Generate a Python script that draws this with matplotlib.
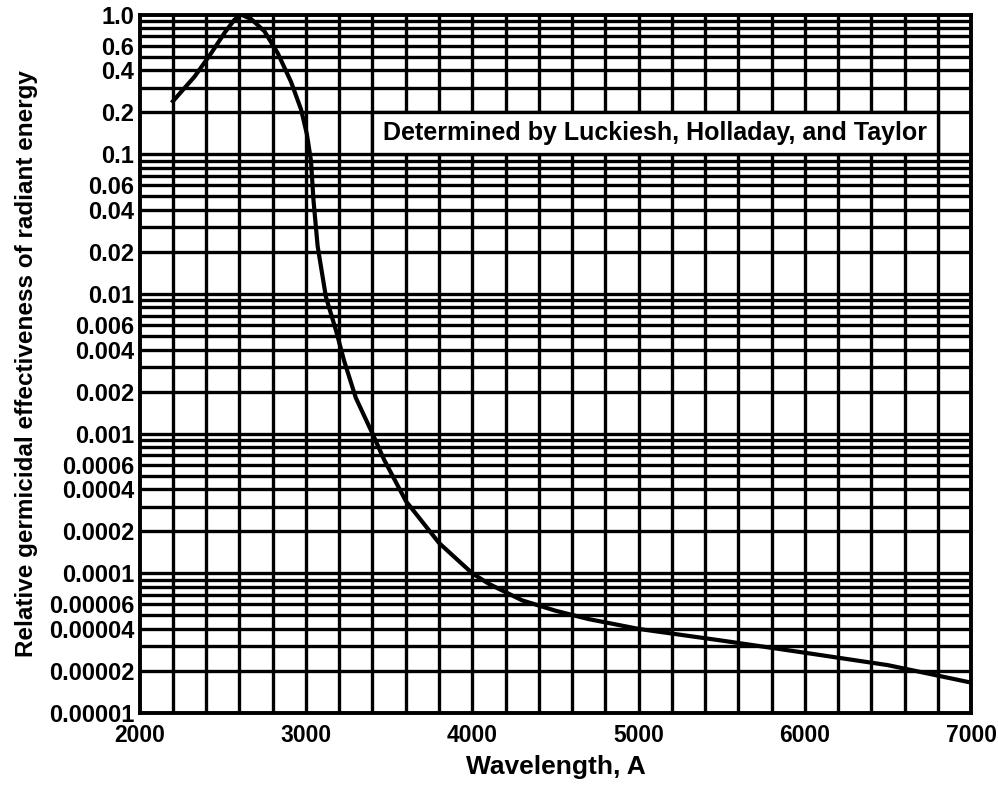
import matplotlib
matplotlib.use("Agg")
import matplotlib.pyplot as plt
from matplotlib.patches import Rectangle
import numpy as np

# Data
wavelength = [2200, 2330, 2430, 2510, 2570, 2610, 2670, 2750, 2830, 2910,
              2970, 3005, 3030, 3045, 3070, 3120, 3180, 3230, 3300, 3400,
              3470, 3600, 3800, 4000, 4100, 4300, 4500, 4700, 5000, 5500,
              6000, 6500, 7000]
effectiveness = [0.24, 0.36, 0.53, 0.74, 0.92, 1.0, 0.93, 0.76, 0.53, 0.33,
                 0.21, 0.14, 0.09, 0.047, 0.022, 0.0095, 0.0055, 0.0033, 0.0018, 0.001,
                 0.00065, 0.00033, 0.000165, 0.0001, 0.000084, 0.000064, 0.000054,
                 0.000047, 0.000040, 0.000033, 0.000027, 0.000022, 0.0000165]

y_ticks = [1.0, 0.6, 0.4, 0.2, 0.1, 0.06, 0.04, 0.02, 0.01, 0.006, 0.004, 0.002,
           0.001, 0.0006, 0.0004, 0.0002, 0.0001, 0.00006, 0.00004, 0.00002, 0.00001]
y_tick_labels = ["1.0", "0.6", "0.4", "0.2", "0.1", "0.06", "0.04", "0.02", "0.01",
                 "0.006", "0.004", "0.002", "0.001", "0.0006", "0.0004", "0.0002",
                 "0.0001", "0.00006", "0.00004", "0.00002", "0.00001"]
x_ticks = [2000, 3000, 4000, 5000, 6000, 7000]
x_tick_labels = ["2000", "3000", "4000", "5000", "6000", "7000"]
annotation = "Determined by Luckiesh, Holladay, and Taylor"

plt.rcParams['font.family'] = ['Liberation Sans', 'DejaVu Sans']

fig = plt.figure(figsize=(9.98, 7.90), dpi=100)
ax = fig.add_axes([0.140, 0.0975, 0.833, 0.884])
ax.set_yscale('log')
ax.set_xlim(2000, 7000)
ax.set_ylim(1e-5, 1.0)

# grid: vertical every 200, horizontal at each 1..9 x 10^k
for xv in np.arange(2200, 7000, 200):
    ax.axvline(xv, color='black', lw=2.4, zorder=1)
for e in range(-5, 0):
    for m in range(1, 10):
        v = m * 10.0**e
        if 1e-5 < v < 1.0:
            ax.axhline(v, color='black', lw=2.4, zorder=1)

# annotation box
ax.add_patch(Rectangle((3400, 0.1), 3400, 0.1, facecolor='white',
                       edgecolor='black', lw=2.4, zorder=2))
ax.text(5100, np.sqrt(0.1 * 0.2), annotation, ha='center', va='center',
        fontsize=18, fontweight='bold', zorder=3)

ax.plot(wavelength, effectiveness, color='black', lw=3.0, zorder=4,
        solid_joinstyle='round')

ax.set_yticks(y_ticks)
ax.set_yticklabels(y_tick_labels, fontsize=17, fontweight='bold')
ax.set_yticks([], minor=True)
ax.set_xticks(x_ticks)
ax.set_xticklabels(x_tick_labels, fontsize=16.5, fontweight='bold')
ax.tick_params(length=0)
ax.tick_params(axis='y', pad=4)
ax.tick_params(axis='x', pad=8)
for s in ax.spines.values():
    s.set_linewidth(2.8)
    s.set_zorder(5)

ax.set_xlabel("Wavelength, A", fontsize=19, fontweight='bold', labelpad=6)
ax.set_ylabel("Relative germicidal effectiveness of radiant energy", fontsize=17.5,
              fontweight='bold', labelpad=8)

fig.savefig("out.png", dpi=100)
